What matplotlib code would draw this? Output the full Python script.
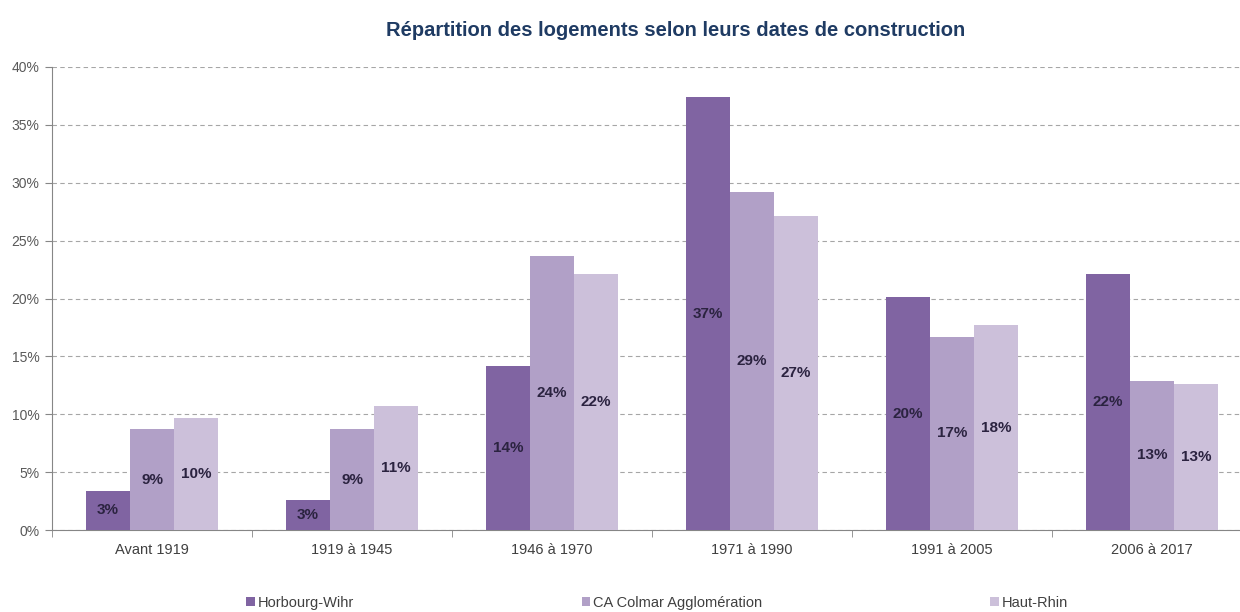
import numpy as np
import matplotlib
matplotlib.use('Agg')
import matplotlib.pyplot as plt
from matplotlib.ticker import FuncFormatter, FixedLocator

plt.rcParams['font.family'] = ['Liberation Sans', 'DejaVu Sans']

categories = ['Avant 1919', '1919 à 1945', '1946 à 1970', '1971 à 1990', '1991 à 2005', '2006 à 2017']
series_names = ['Horbourg-Wihr', 'CA Colmar Agglomération', 'Haut-Rhin']
horbourg = [3.4, 2.6, 14.2, 37.4, 20.1, 22.1]
colmar = [8.7, 8.7, 23.7, 29.2, 16.7, 12.9]
haut_rhin = [9.7, 10.7, 22.1, 27.1, 17.7, 12.6]
series = [horbourg, colmar, haut_rhin]
colors = ['#8064A2', '#B1A0C7', '#CCC0DA']

fig = plt.figure(figsize=(12.4, 6.12), dpi=100)
ax = fig.add_axes([52/1240, 1 - 530/612, 1200/1240, 463/612])

x = np.arange(len(categories))
w = 0.22
for i, (vals, col) in enumerate(zip(series, colors)):
    pos = x + (i - 1) * w
    ax.bar(pos, vals, width=w, color=col, label=series_names[i], zorder=3)
    for p, v in zip(pos, vals):
        ax.text(p, v / 2, '%d%%' % round(v), ha='center', va='center',
                fontsize=11, fontweight='bold', color='#2B2340', zorder=4)

ax.set_xlim(-0.5, len(categories) - 0.5)
ax.set_ylim(0, 40)
ax.set_yticks(np.arange(0, 41, 5))
ax.yaxis.set_major_formatter(FuncFormatter(lambda v, _: '%d%%' % v))
ax.yaxis.grid(True, linestyle=(0, (4, 3)), color='#A6A6A6', linewidth=0.8, zorder=0)

ax.set_xticks(x)
ax.set_xticklabels(categories)
ax.tick_params(axis='x', which='major', length=0, pad=9, labelsize=10.5, labelcolor='#404040')
ax.xaxis.set_minor_locator(FixedLocator(np.arange(-0.5, len(categories), 1)))
ax.tick_params(axis='x', which='minor', length=5, color='#868686', direction='out')
ax.tick_params(axis='y', length=5, color='#868686', labelsize=10, labelcolor='#595959', pad=4)

for s in ['top', 'right']:
    ax.spines[s].set_visible(False)
for s in ['left', 'bottom']:
    ax.spines[s].set_color('#868686')

fig.text(676/1240, 1 - 30/612, 'Répartition des logements selon leurs dates de construction',
         ha='center', va='center', fontsize=14.5, fontweight='bold', color='#1F3B63')

fig.legend(loc='center', bbox_to_anchor=(657/1240, 1 - 603/612), ncol=3, frameon=False,
           fontsize=10.5, handlelength=0.6, handleheight=0.6, handletextpad=0.2,
           columnspacing=15.6, labelcolor='#404040')

fig.savefig('out.png', dpi=100)
